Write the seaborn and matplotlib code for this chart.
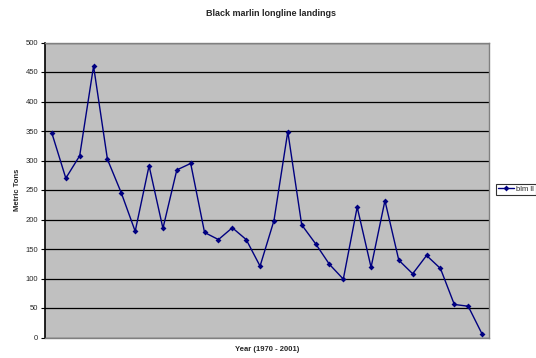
import matplotlib
matplotlib.use("Agg")
import matplotlib.pyplot as plt
import seaborn as sns
import pandas as pd

# Annual black marlin longline landings (metric tons), 1970-2001
years = [1970, 1971, 1972, 1973, 1974, 1975, 1976, 1977, 1978, 1979, 1980,
         1981, 1982, 1983, 1984, 1985, 1986, 1987, 1988, 1989, 1990, 1991,
         1992, 1993, 1994, 1995, 1996, 1997, 1998, 1999, 2000, 2001]
landings = [346, 270, 308, 460, 302, 245, 180, 291, 185, 284, 295,
            178, 166, 186, 166, 121, 198, 349, 191, 159, 124, 99,
            221, 119, 232, 131, 108, 139, 117, 56, 53, 6]
series_name = "blm ll"
y_ticks = [0, 50, 100, 150, 200, 250, 300, 350, 400, 450, 500]

df = pd.DataFrame({"idx": range(len(years)), "year": years,
                   "tons": landings, "series": series_name})

sns.set_theme(style="white")
plt.rcParams["font.family"] = ["Liberation Sans", "DejaVu Sans"]

fig = plt.figure(figsize=(5.36, 3.58), dpi=100)
ax = fig.add_axes([45 / 536, (358 - 337.5) / 358, 444 / 536, 295 / 358])
ax.set_facecolor("#C0C0C0")

sns.lineplot(data=df, x="idx", y="tons", hue="series", palette=["#000080"],
             marker="D", markersize=3, markeredgewidth=0, linewidth=1.0,
             ax=ax, legend=False, zorder=3)

ax.set_xlim(-0.5, len(years) - 0.5)
ax.set_ylim(0, 500)
ax.set_yticks(y_ticks)
ax.set_yticklabels([str(t) for t in y_ticks], fontsize=5.5)
ax.set_xticks([])
ax.yaxis.grid(True, color="black", linewidth=0.9)
ax.set_axisbelow(True)
ax.tick_params(axis="y", length=3, width=0.8, color="black", pad=2,
               left=True, direction="out")

for side in ["top", "right", "bottom"]:
    ax.spines[side].set_color("#808080")
    ax.spines[side].set_linewidth(1.0)
ax.spines["left"].set_color("black")
ax.spines["left"].set_linewidth(1.2)

ax.set_xlabel("Year (1970 - 2001)", fontsize=5.5, fontweight="bold", labelpad=6)
ax.set_ylabel("Metric Tons", fontsize=5.5, fontweight="bold", labelpad=3)
fig.text(0.505, 1 - 13 / 358, "Black marlin longline landings", ha="center",
         va="center", fontsize=6.5, fontweight="bold")

handle = plt.Line2D([], [], color="#000080", marker="D", markersize=3,
                    markeredgewidth=0, linewidth=1.0)
leg = fig.legend([handle], [series_name], loc="upper left",
                 bbox_to_anchor=(496 / 536, 1 - 183.5 / 358), fontsize=5.5,
                 frameon=True, fancybox=False, handlelength=2.1,
                 handletextpad=0.2, borderpad=0.3, borderaxespad=0)
leg.get_frame().set_edgecolor("black")
leg.get_frame().set_linewidth(0.8)

fig.savefig("out.png", dpi=100)
